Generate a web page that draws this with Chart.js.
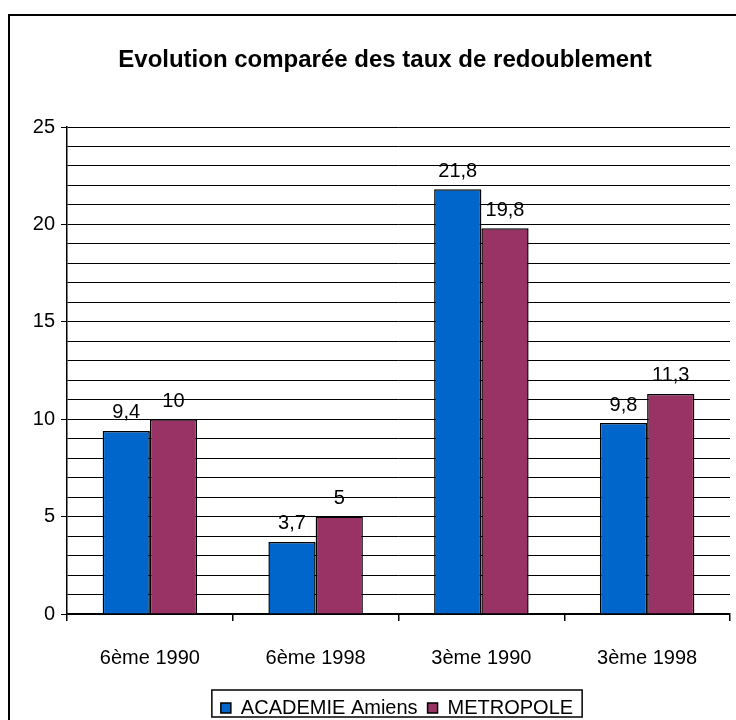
<!DOCTYPE html>
<html>
<head>
<meta charset="utf-8">
<script src="https://cdn.jsdelivr.net/npm/chart.js@4/dist/chart.umd.min.js"></script>
<style>
  body { margin: 0; background: #fff; }
  canvas { display: block; }
</style>
</head>
<body>
<canvas id="chart" width="736" height="720"></canvas>
<script>
// data
const categories = ['6ème 1990', '6ème 1998', '3ème 1990', '3ème 1998'];
const academieAmiens = [9.4, 3.7, 21.8, 9.8];
const metropole = [10, 5, 19.8, 11.3];
const yMin = 0;
const yMax = 25;
const yLabelStep = 5;
const chartTitle = 'Evolution comparée des taux de redoublement';

const FONT = '"Liberation Sans", Arial, sans-serif';
Chart.defaults.font.family = FONT;
Chart.defaults.color = '#000';

// white background, outer frame and the title
const framePlugin = {
  id: 'frame',
  afterLayout(chart) {
    // legend sits a bit right of centre in the original
    if (chart.legend) chart.legend.left += 64;
  },
  beforeDraw(chart) {
    const ctx = chart.ctx;
    ctx.save();
    ctx.fillStyle = '#fff';
    ctx.fillRect(0, 0, chart.width, chart.height);
    ctx.strokeStyle = '#000';
    ctx.lineWidth = 2;
    ctx.strokeRect(9, 15, chart.width + 20, chart.height + 20);
    ctx.font = 'bold 24px ' + FONT;
    ctx.fillStyle = '#000';
    ctx.textAlign = 'center';
    ctx.textBaseline = 'middle';
    ctx.fillText(chartTitle, 385, 60);
    ctx.restore();
  }
};

// value labels above bars
const valueLabels = {
  id: 'valueLabels',
  afterDatasetsDraw(chart) {
    const ctx = chart.ctx;
    ctx.save();
    ctx.font = '20px ' + FONT;
    ctx.fillStyle = '#000';
    ctx.textAlign = 'center';
    ctx.textBaseline = 'middle';
    chart.data.datasets.forEach((ds, i) => {
      chart.getDatasetMeta(i).data.forEach((bar, j) => {
        const txt = String(ds.data[j]).replace('.', ',');
        ctx.fillText(txt, bar.x, bar.y - 18);
      });
    });
    ctx.restore();
  }
};

// box around the legend
const legendBox = {
  id: 'legendBox',
  afterDraw(chart) {
    const boxes = chart.legend && chart.legend.legendHitBoxes;
    if (!boxes || !boxes.length) return;
    let l = Infinity, r = -Infinity, t = Infinity;
    boxes.forEach(h => {
      l = Math.min(l, h.left); r = Math.max(r, h.left + h.width);
      t = Math.min(t, h.top);
    });
    const ctx = chart.ctx;
    ctx.save();
    ctx.strokeStyle = '#000';
    ctx.lineWidth = 1.5;
    ctx.strokeRect(l - 9, t - 8, r - l + 18, 27);
    ctx.restore();
  }
};

new Chart(document.getElementById('chart'), {
  type: 'bar',
  data: {
    labels: categories,
    datasets: [
      {
        label: 'ACADEMIE Amiens',
        data: academieAmiens,
        backgroundColor: '#0066cc',
        borderColor: '#000',
        borderWidth: 1.5
      },
      {
        label: 'METROPOLE',
        data: metropole,
        backgroundColor: '#993366',
        borderColor: '#000',
        borderWidth: 1.5
      }
    ]
  },
  options: {
    responsive: false,
    animation: false,
    categoryPercentage: 0.57,
    barPercentage: 1,
    layout: { padding: { left: 0, right: 6, top: 127, bottom: -8 } },
    plugins: {
      title: { display: false },
      legend: {
        position: 'bottom',
        labels: {
          color: '#000',
          font: { size: 20 },
          boxWidth: 10,
          boxHeight: 10,
          padding: 10,
          generateLabels(chart) {
            return chart.data.datasets.map((ds, i) => ({
              text: ds.label,
              fillStyle: ds.backgroundColor,
              strokeStyle: '#000',
              lineWidth: 1.5,
              datasetIndex: i,
              hidden: false
            }));
          }
        }
      },
      tooltip: { enabled: false }
    },
    scales: {
      x: {
        grid: {
          offset: true,
          drawOnChartArea: false,
          drawTicks: true,
          tickLength: 7,
          color: '#000',
          lineWidth: 1.5
        },
        border: { color: '#000', width: 1.5 },
        ticks: { color: '#000', font: { size: 20 }, padding: 25 },
        afterFit(scale) { scale.height = 74; }
      },
      y: {
        min: yMin,
        max: yMax,
        grid: {
          color: '#000',
          lineWidth: 1,
          tickLength: 6,
          tickColor: c => (c.tick && c.tick.value % yLabelStep === 0) ? '#000' : 'rgba(0,0,0,0)'
        },
        border: { color: '#000', width: 1.5 },
        ticks: {
          stepSize: 1,
          autoSkip: false,
          color: '#000',
          font: { size: 20 },
          padding: 6,
          callback: v => (v % yLabelStep === 0 ? v : '')
        },
        afterFit(scale) { scale.width = 67; }
      }
    }
  },
  plugins: [framePlugin, valueLabels, legendBox]
});
</script>
</body>
</html>
